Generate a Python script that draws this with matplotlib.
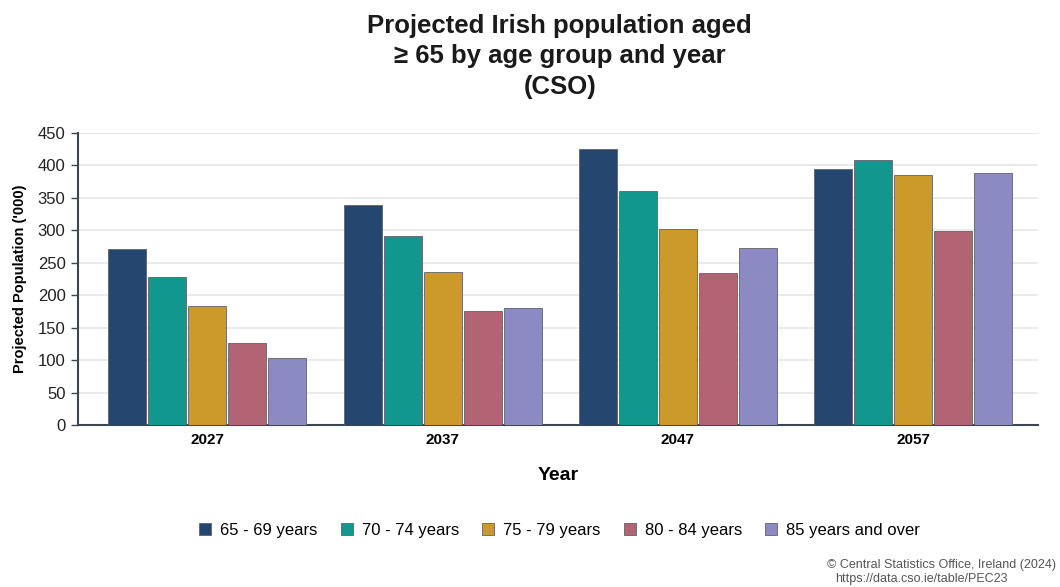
import matplotlib.pyplot as plt
import numpy as np

plt.rcParams['font.family'] = ['Liberation Sans', 'DejaVu Sans']

years = ['2027', '2037', '2047', '2057']
age_groups = ['65 - 69 years', '70 - 74 years', '75 - 79 years',
              '80 - 84 years', '85 years and over']
# projected population, thousands
pop_65_69 = [271, 339, 425, 395]
pop_70_74 = [228, 291, 360, 409]
pop_75_79 = [184, 236, 302, 386]
pop_80_84 = [127, 176, 235, 299]
pop_85_plus = [103, 181, 273, 389]
colors = ['#24466f', '#12978f', '#cc9a2a', '#b36474', '#8b8ac2']

series = [pop_65_69, pop_70_74, pop_75_79, pop_80_84, pop_85_plus]

fig = plt.figure(figsize=(10.6, 5.87), dpi=100)
ax = fig.add_axes([0.0736, 0.276, 0.9054, 0.4974])

x = np.arange(len(years))
step = 0.17
width = 0.162
for i, (vals, lab, col) in enumerate(zip(series, age_groups, colors)):
    ax.bar(x + (i - 2) * step, vals, width, color=col, label=lab,
           edgecolor='#5f6268', linewidth=0.6, zorder=3)

ax.set_xlim(-0.55, 3.53)
ax.set_ylim(0, 450)
ax.set_yticks(range(0, 451, 50))
ax.set_xticks(x)
ax.set_xticklabels(years, fontweight='bold', fontsize=11)
ax.tick_params(axis='x', length=0, pad=6)
ax.tick_params(axis='y', length=5, width=1, color='#3c4650', labelsize=12,
               pad=4, labelcolor='#222222')
ax.grid(axis='y', color='#e6e6e6', linewidth=1.2, zorder=0)
for s in ['top', 'right']:
    ax.spines[s].set_visible(False)
for s in ['left', 'bottom']:
    ax.spines[s].set_color('#3c4650')
    ax.spines[s].set_linewidth(1.5)

ax.set_ylabel("Projected Population ('000)", fontweight='bold', fontsize=10.5,
              labelpad=8)
ax.set_xlabel('Year', fontweight='bold', fontsize=14, labelpad=14)

fig.text(0.528, 0.904, 'Projected Irish population aged\n\u2265 65 by age group and year\n(CSO)',
         ha='center', va='center', fontsize=18.5, fontweight='bold',
         linespacing=1.35, color='#1a1a1a')

handles, labels = ax.get_legend_handles_labels()
fig.legend(handles, labels, loc='center', bbox_to_anchor=(0.528, 0.097),
           ncol=5, frameon=False, fontsize=12, handlelength=0.7,
           handleheight=0.7, handletextpad=0.55, columnspacing=1.4)

fig.text(0.996, 0.038, '\u00a9 Central Statistics Office, Ireland (2024)',
         ha='right', va='center', fontsize=9, color='#555555')
fig.text(0.788, 0.013, 'https://data.cso.ie/table/PEC23',
         ha='left', va='center', fontsize=9, color='#555555')

fig.savefig('out.png', dpi=100, facecolor='white')
